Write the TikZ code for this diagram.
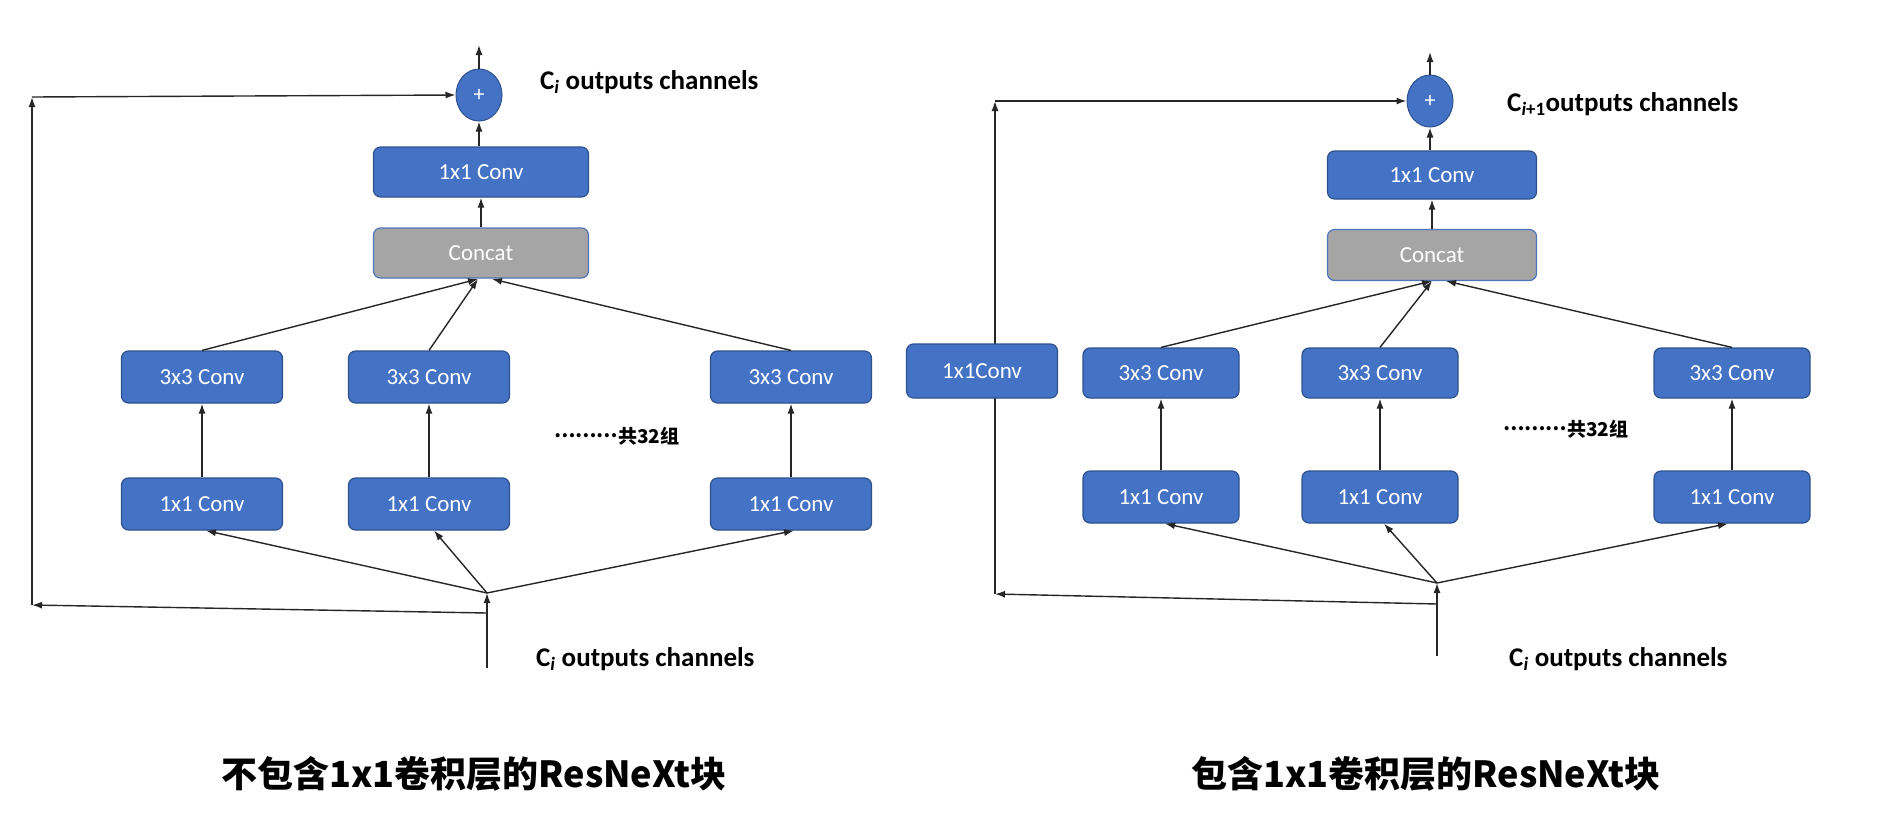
\documentclass[tikz,border=0pt]{standalone}
\usepackage{fontspec}
\setmainfont{Carlito}
\newfontfamily\cjk{Noto Sans CJK SC}
\usetikzlibrary{arrows.meta,shapes.geometric}
\definecolor{boxblue}{HTML}{4472C4}
\definecolor{boxedge}{HTML}{2F528F}
\definecolor{concatgray}{HTML}{A5A5A5}
\definecolor{linegray}{HTML}{262626}
\tikzset{
  conv/.style={draw=boxedge, line width=1.2pt, fill=boxblue, rounded corners=7pt,
    text=white, font=\fontsize{23}{26}\selectfont, inner sep=0pt},
  concatbox/.style={conv, fill=concatgray, draw=boxblue!80!gray},
  plusnode/.style={ellipse, draw=boxedge, line width=1pt, fill=boxblue, text=white,
    minimum width=46pt, minimum height=52pt, inner sep=0pt, font=\fontsize{22}{24}\selectfont},
  arr/.style={-{Latex[length=10pt,width=7pt]}, line width=1.4pt, draw=linegray},
  lbl/.style={anchor=west, inner sep=0pt, font=\fontsize{27}{30}\selectfont\bfseries},
  dotslbl/.style={anchor=west, inner sep=0pt, font=\cjk\fontsize{19}{22}\selectfont\bfseries},
  titlelbl/.style={inner sep=0pt, font=\cjk\fontsize{36}{40}\selectfont\bfseries},
}
\begin{document}
\begin{tikzpicture}[x=1pt,y=-1pt]
\fill[white] (0,0) rectangle (1893,817);
\useasboundingbox (0,0) rectangle (1893,817);

% ================= LEFT =================
\node[plusnode] (plusL) at (479,95) {+};
\node[conv, minimum width=215pt, minimum height=50pt] (topL) at (481,172) {1x1 Conv};
\node[concatbox, minimum width=215pt, minimum height=50pt] (catL) at (481,253) {Concat};
\foreach \n/\x in {a1/202,a2/429,a3/791}{
  \node[conv, minimum width=161pt, minimum height=52pt] (\n) at (\x,377) {3x3 Conv};
}
\foreach \n/\x in {b1/202,b2/429,b3/791}{
  \node[conv, minimum width=161pt, minimum height=52pt] (\n) at (\x,504) {1x1 Conv};
}
\coordinate (outL) at (479,45);
\coordinate (fanL) at (487,593);
\coordinate (inL) at (487,668);
\coordinate (brL) at (487,613);
\coordinate (blL) at (32,605);
\coordinate (tlL) at (32,97);
\coordinate (cinL1) at (478,279);
\coordinate (cinL2) at (492,279);

\draw[arr] (plusL.north) -- (outL);
\draw[arr] (topL.north -| plusL.south) -- (plusL.south);
\draw[arr] (catL.north) -- (topL.south);
\draw[arr] (a1.north) -- (cinL1);
\draw[arr] (a2.north) -- (cinL1);
\draw[arr] (a3.north) -- (cinL2);
\draw[arr] (b1.north) -- (a1.south);
\draw[arr] (b2.north) -- (a2.south);
\draw[arr] (b3.north) -- (a3.south);
\draw[arr] (fanL) -- ([xshift=4pt]b1.south);
\draw[arr] (fanL) -- ([xshift=5pt]b2.south);
\draw[arr] (fanL) -- ([xshift=3pt]b3.south);
\draw[arr] (inL) -- (fanL);
\draw[arr] (brL) -- (blL);
\draw[arr] (blL) -- (tlL);
\draw[arr] (tlL) -- (plusL.west);

\node[lbl] (lblTopL) at (540,82) {C\textsubscript{\textit{i}} outputs channels};
\node[lbl] (lblBotL) at (536,659) {C\textsubscript{\textit{i}} outputs channels};
\node[dotslbl] (dotsL) at (554,436) {\raisebox{0.3em}{………}共32组};
\node[titlelbl] (titleL) at (474,774) {不包含1x1卷积层的ResNeXt块};

% ================= RIGHT =================
\coordinate (outR) at (1430,52);
\coordinate (fanR) at (1437,583);
\coordinate (inR) at (1437,656);
\coordinate (brR) at (1437,604);
\coordinate (blR) at (995,594);
\coordinate (tlR) at (995,101);
\coordinate (cinR1) at (1432,281);
\coordinate (cinR2) at (1446,281);

\node[plusnode] (plusR) at (1430,101) {+};
\draw[arr] (brR) -- (blR);
\draw[arr] (blR) -- (tlR);
\draw[arr] (tlR) -- (plusR.west);
\node[conv, minimum width=151pt, minimum height=54pt] (side) at (982,371) {1x1Conv};

\node[conv, minimum width=209pt, minimum height=48pt] (topR) at (1432,175) {1x1 Conv};
\node[concatbox, minimum width=209pt, minimum height=51pt] (catR) at (1432,255) {Concat};
\foreach \n/\x in {c1/1161,c2/1380,c3/1732}{
  \node[conv, minimum width=156pt, minimum height=50pt] (\n) at (\x,373) {3x3 Conv};
}
\foreach \n/\x in {d1/1161,d2/1380,d3/1732}{
  \node[conv, minimum width=156pt, minimum height=52pt] (\n) at (\x,497) {1x1 Conv};
}

\draw[arr] (plusR.north) -- (outR);
\draw[arr] (topR.north -| plusR.south) -- (plusR.south);
\draw[arr] (catR.north) -- (topR.south);
\draw[arr] (c1.north) -- (cinR1);
\draw[arr] (c2.north) -- (cinR1);
\draw[arr] (c3.north) -- (cinR2);
\draw[arr] (d1.north) -- (c1.south);
\draw[arr] (d2.north) -- (c2.south);
\draw[arr] (d3.north) -- (c3.south);
\draw[arr] (fanR) -- ([xshift=4pt]d1.south);
\draw[arr] (fanR) -- ([xshift=4pt]d2.south);
\draw[arr] (fanR) -- ([xshift=-4pt]d3.south);
\draw[arr] (inR) -- (fanR);

\node[lbl] (lblTopR) at (1507,104) {C\textsubscript{\textit{i}+1}outputs channels};
\node[lbl] (lblBotR) at (1509,659) {C\textsubscript{\textit{i}} outputs channels};
\node[dotslbl] (dotsR) at (1503,429) {\raisebox{0.3em}{………}共32组};
\node[titlelbl] (titleR) at (1426,774) {包含1x1卷积层的ResNeXt块};
\end{tikzpicture}
\end{document}
